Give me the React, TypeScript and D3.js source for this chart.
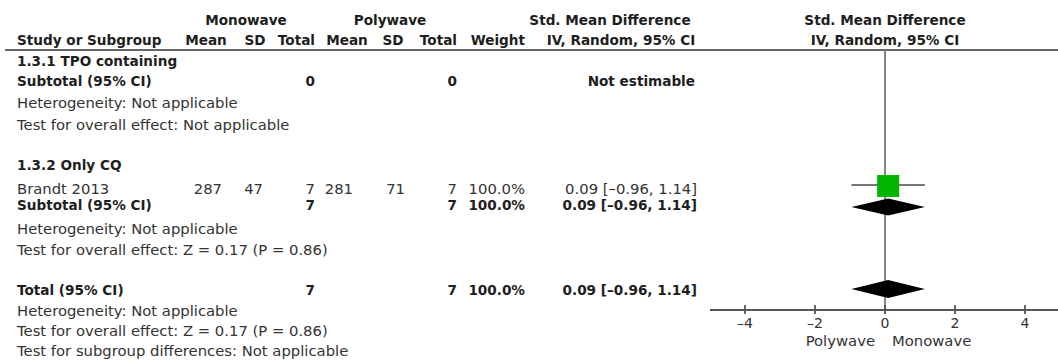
import React from "react";
import * as d3 from "d3";

// Study-level data (Monowave vs Polywave)
const subgroupTitles = ["1.3.1 TPO containing", "1.3.2 Only CQ"];
const studyNames = ["Brandt 2013"];
const monoMean = [287];
const monoSD = [47];
const monoTotal = [7];
const polyMean = [281];
const polySD = [71];
const polyTotal = [7];
const studyWeight = [100.0];
const studySMD = [0.09];
const studyLow = [-0.96];
const studyHigh = [1.14];

// Pooled estimates: subgroup 1 has no studies, subgroup 2 and overall equal the single study
const subMonoTotal = [0, 7];
const subPolyTotal = [0, 7];
const subWeight = [null, 100.0];
const subSMD = [null, 0.09];
const subLow = [null, -0.96];
const subHigh = [null, 1.14];
const subOverall = ["Not applicable", "Z = 0.17 (P = 0.86)"];

const totalMono = 7;
const totalPoly = 7;
const totalWeight = 100.0;
const totalSMD = 0.09;
const totalLow = -0.96;
const totalHigh = 1.14;
const totalOverall = "Z = 0.17 (P = 0.86)";
const subgroupDiff = "Not applicable";

const axisTicks = [-4, -2, 0, 2, 4];
const axisDomain = [-5, 5];

const FONT = "'DejaVu Sans', Verdana, sans-serif";
const REG = 14.8;
const BOLD = 13.6;
const TXT = "#333";
const TXTB = "#1e1e1e";

const fmt2 = (v: number) => v.toFixed(2).replace("-", "\u2013");
const ciText = (m: number, lo: number, hi: number) =>
  `${fmt2(m)} [${fmt2(lo)}, ${fmt2(hi)}]`;
const pct = (w: number) => `${w.toFixed(1)}%`;

function T(props: any) {
  const { bold, anchor, children, ...rest } = props;
  return (
    <text
      fontFamily={FONT}
      fontSize={bold ? BOLD : REG}
      fontWeight={bold ? "bold" : "normal"}
      fill={bold ? TXTB : TXT}
      textAnchor={anchor || "start"}
      {...rest}
    >
      {children}
    </text>
  );
}

export default function App() {
  const W = 1058;
  const H = 363;
  const x = d3.scaleLinear().domain(axisDomain).range([710, 1060]);
  const axisY = 310;
  const headerLineY = 50;

  // column anchors (right edges of numeric columns)
  const col = {
    mMean: 222,
    mSD: 263,
    mTot: 315,
    pMean: 353,
    pSD: 405,
    pTot: 457,
    wt: 525,
    ci: 697,
  };
  const left = 17;

  // row baselines
  const rows = {
    sg1: 66,
    sub1: 86,
    het1: 108,
    ov1: 130,
    sg2: 170,
    study: 194,
    sub2: 210,
    het2: 234,
    ov2: 255,
    tot: 295,
    het3: 316,
    ov3: 336,
    diff: 356,
  };
  const markOffset = 6; // baseline to visual centre of the row

  const diamond = (m: number, lo: number, hi: number, cy: number, hh: number) =>
    `M${x(lo)},${cy} L${x(m)},${cy - hh} L${x(hi)},${cy} L${x(m)},${cy + hh} Z`;

  const sq = 22;

  return (
    <svg width={W} height={H} style={{ display: "block", position: "absolute", left: 0, top: 0 }}>
      <rect width={W} height={H} fill="#fff" />

      {/* header */}
      <T bold x={246} y={25} anchor="middle">Monowave</T>
      <T bold x={390} y={25} anchor="middle">Polywave</T>
      <T bold x={610} y={25} anchor="middle">Std. Mean Difference</T>
      <T bold x={885} y={25} anchor="middle">Std. Mean Difference</T>

      <T bold x={left} y={45}>Study or Subgroup</T>
      <T bold x={206} y={45} anchor="middle">Mean</T>
      <T bold x={255} y={45} anchor="middle">SD</T>
      <T bold x={col.mTot} y={45} anchor="end">Total</T>
      <T bold x={347} y={45} anchor="middle">Mean</T>
      <T bold x={393} y={45} anchor="middle">SD</T>
      <T bold x={col.pTot} y={45} anchor="end">Total</T>
      <T bold x={col.wt} y={45} anchor="end">Weight</T>
      <T bold x={621} y={45} anchor="middle">IV, Random, 95% CI</T>
      <T bold x={885} y={45} anchor="middle">IV, Random, 95% CI</T>

      <line x1={5} x2={1058} y1={headerLineY} y2={headerLineY} stroke="#666" strokeWidth={2} />

      {/* zero line */}
      <line x1={x(0)} x2={x(0)} y1={headerLineY} y2={axisY} stroke="#777" strokeWidth={1.8} />

      {/* subgroup 1 */}
      <T bold x={left} y={rows.sg1}>{subgroupTitles[0]}</T>
      <T bold x={left} y={rows.sub1}>Subtotal (95% CI)</T>
      <T bold x={col.mTot} y={rows.sub1} anchor="end">{subMonoTotal[0]}</T>
      <T bold x={col.pTot} y={rows.sub1} anchor="end">{subPolyTotal[0]}</T>
      <T bold x={695} y={rows.sub1} anchor="end">Not estimable</T>
      <T x={left} y={rows.het1}>Heterogeneity: Not applicable</T>
      <T x={left} y={rows.ov1}>{`Test for overall effect: ${subOverall[0]}`}</T>

      {/* subgroup 2 */}
      <T bold x={left} y={rows.sg2}>{subgroupTitles[1]}</T>
      {studyNames.map((name, i) => {
        const cy = rows.study - markOffset - 2;
        return (
          <g key={name}>
            <T x={left} y={rows.study}>{name}</T>
            <T x={col.mMean} y={rows.study} anchor="end">{monoMean[i]}</T>
            <T x={col.mSD} y={rows.study} anchor="end">{monoSD[i]}</T>
            <T x={col.mTot} y={rows.study} anchor="end">{monoTotal[i]}</T>
            <T x={col.pMean} y={rows.study} anchor="end">{polyMean[i]}</T>
            <T x={col.pSD} y={rows.study} anchor="end">{polySD[i]}</T>
            <T x={col.pTot} y={rows.study} anchor="end">{polyTotal[i]}</T>
            <T x={col.wt} y={rows.study} anchor="end">{pct(studyWeight[i])}</T>
            <T x={col.ci} y={rows.study} anchor="end">{ciText(studySMD[i], studyLow[i], studyHigh[i])}</T>
            <line x1={x(studyLow[i])} x2={x(studyHigh[i])} y1={cy - 1} y2={cy - 1} stroke="#777" strokeWidth={1.8} />
            <rect x={x(studySMD[i]) - sq / 2} y={cy - sq / 2} width={sq} height={sq} fill="#00b400" />
          </g>
        );
      })}
      <T bold x={left} y={rows.sub2}>Subtotal (95% CI)</T>
      <T bold x={col.mTot} y={rows.sub2} anchor="end">{subMonoTotal[1]}</T>
      <T bold x={col.pTot} y={rows.sub2} anchor="end">{subPolyTotal[1]}</T>
      <T bold x={col.wt} y={rows.sub2} anchor="end">{pct(subWeight[1] as number)}</T>
      <T bold x={col.ci} y={rows.sub2} anchor="end">
        {ciText(subSMD[1] as number, subLow[1] as number, subHigh[1] as number)}
      </T>
      <path
        d={diamond(subSMD[1] as number, subLow[1] as number, subHigh[1] as number, rows.sub2 - 3, 8.5)}
        fill="#000"
      />
      <T x={left} y={rows.het2}>Heterogeneity: Not applicable</T>
      <T x={left} y={rows.ov2}>{`Test for overall effect: ${subOverall[1]}`}</T>

      {/* overall */}
      <T bold x={left} y={rows.tot}>Total (95% CI)</T>
      <T bold x={col.mTot} y={rows.tot} anchor="end">{totalMono}</T>
      <T bold x={col.pTot} y={rows.tot} anchor="end">{totalPoly}</T>
      <T bold x={col.wt} y={rows.tot} anchor="end">{pct(totalWeight)}</T>
      <T bold x={col.ci} y={rows.tot} anchor="end">{ciText(totalSMD, totalLow, totalHigh)}</T>
      <path d={diamond(totalSMD, totalLow, totalHigh, rows.tot - 6, 9)} fill="#000" />
      <T x={left} y={rows.het3}>Heterogeneity: Not applicable</T>
      <T x={left} y={rows.ov3}>{`Test for overall effect: ${totalOverall}`}</T>
      <T x={left} y={rows.diff}>{`Test for subgroup differences: ${subgroupDiff}`}</T>

      {/* axis */}
      <line x1={x(axisDomain[0])} x2={W} y1={axisY} y2={axisY} stroke="#555" strokeWidth={1.8} />
      {axisTicks.map((t) => (
        <g key={t}>
          <line x1={x(t)} x2={x(t)} y1={axisY - 5} y2={axisY + 4} stroke="#555" strokeWidth={1.8} />
          <T x={x(t)} y={328} anchor="middle" fontSize={14}>
            {String(t).replace("-", "\u2013")}
          </T>
        </g>
      ))}
      <T x={x(0) - 10} y={346} anchor="end">Polywave</T>
      <T x={x(0) + 7} y={346}>Monowave</T>
    </svg>
  );
}
